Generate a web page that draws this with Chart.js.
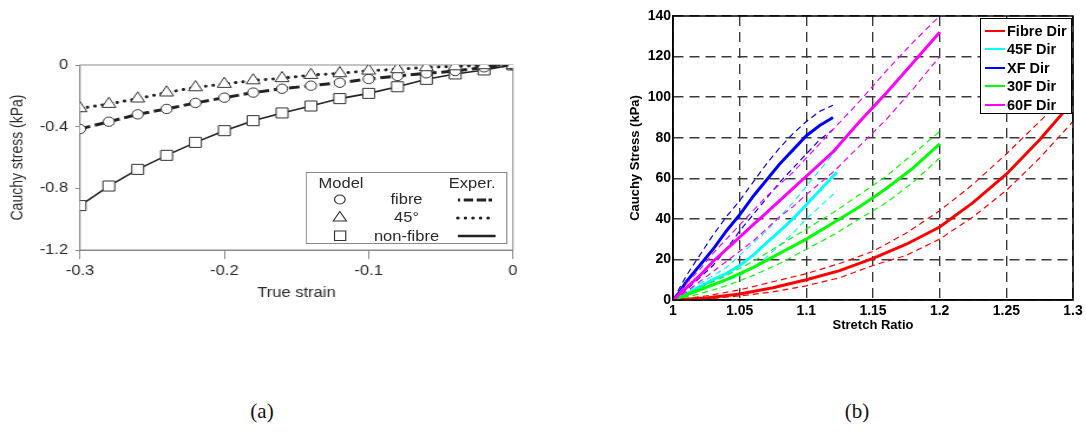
<!DOCTYPE html>
<html><head><meta charset="utf-8">
<script src="https://cdn.jsdelivr.net/npm/chart.js@4.4.1/dist/chart.umd.min.js"></script>
<style>
html,body{margin:0;padding:0;background:#fff;}
body{width:1086px;height:434px;overflow:hidden;position:relative;font-family:"Liberation Sans",Arial,sans-serif;}
#wrapA{position:absolute;left:0;top:0;width:458px;height:310px;transform:scaleX(1.18);transform-origin:0 0;}
#wrapB{position:absolute;left:540px;top:0;width:546px;height:340px;}
.cap{position:absolute;font-family:"Liberation Serif","Times New Roman",serif;font-size:21px;color:#111;transform:translate(-50%,-50%);}
#legB{position:absolute;left:980px;top:18px;width:92px;height:96px;border:1.5px solid #000;background:#fff;box-sizing:border-box;}
.lb{position:absolute;left:4px;height:19px;font:bold 14.5px "Liberation Sans",Arial,sans-serif;color:#000;}
.lb span.sw{position:absolute;left:0;top:8px;width:20px;height:2px;}
.lb span.tx{position:absolute;left:22px;top:0;line-height:19px;white-space:nowrap;}
</style></head><body>
<div id="wrapA"><canvas id="cA"></canvas>
<svg id="legA" style="position:absolute;left:258.5px;top:172px;overflow:visible" width="171" height="72">
  <rect x="0.5" y="0.5" width="170" height="71" fill="#fff" stroke="#888" stroke-width="1"/>
  <g font-family="Liberation Sans, Arial, sans-serif" font-size="14" fill="#2a2a2a">
    <text x="11" y="16">Model</text>
    <text x="161" y="16" text-anchor="end">Exper.</text>
    <text x="85.5" y="32" text-anchor="middle">fibre</text>
    <text x="85.5" y="50" text-anchor="middle">45°</text>
    <text x="85.5" y="69" text-anchor="middle">non-fibre</text>
  </g>
  <circle cx="29" cy="27.5" r="4.5" fill="#fff" stroke="#333" stroke-width="1"/>
  <polygon points="29,39.5 34.6,49 23.4,49" fill="#fff" stroke="#333" stroke-width="1"/>
  <rect x="24.5" y="59" width="9.5" height="9.5" fill="#fff" stroke="#333" stroke-width="1"/>
  <line x1="129" y1="28" x2="161" y2="28" stroke="#222" stroke-width="3" stroke-dasharray="2 3 8 3 8"/>
  <line x1="129" y1="46" x2="161" y2="46" stroke="#222" stroke-width="3" stroke-dasharray="0.1 6.3" stroke-linecap="round"/>
  <line x1="129" y1="64" x2="161" y2="64" stroke="#222" stroke-width="2.5"/>
</svg>
</div>
<div id="wrapB"><canvas id="cB"></canvas></div>
<div id="legB"></div>
<div class="cap" style="left:262px;top:411px">(a)</div>
<div class="cap" style="left:857px;top:411px">(b)</div>
<script>
// ---------- Panel (a) data ----------
const strainA = [-0.30,-0.28,-0.26,-0.24,-0.22,-0.20,-0.18,-0.16,-0.14,-0.12,-0.10,-0.08,-0.06,-0.04,-0.02,0];
const fibreA  = [-0.415,-0.368,-0.320,-0.285,-0.246,-0.212,-0.179,-0.154,-0.134,-0.115,-0.091,-0.071,-0.054,-0.039,-0.015,0];
const deg45A  = [-0.281,-0.253,-0.218,-0.179,-0.145,-0.123,-0.100,-0.086,-0.065,-0.054,-0.037,-0.028,-0.015,-0.009,-0.002,0];
const nonFibreA = [-0.912,-0.785,-0.677,-0.586,-0.502,-0.426,-0.361,-0.311,-0.266,-0.218,-0.184,-0.141,-0.093,-0.058,-0.032,0];
const xTicksA = [-0.3,-0.2,-0.1,0];
const xLabelsA = ['-0.3','-0.2','-0.1','0'];
const yTicksA = [0,-0.4,-0.8,-1.2];
const yLabelsA = ['0','-0.4','-0.8','-1.2'];

// ---------- Panel (b) data ----------
const stretchFibre = [1.0,1.025,1.05,1.075,1.1,1.125,1.15,1.175,1.2,1.225,1.25,1.275,1.3];
const fibreMean  = [0,1,3,6,10,14.5,20.5,27.5,36,48,62,79,98];
const fibreUpper = [0,2,5,9,13,18,24,33,44,57,72,88,104];
const fibreLower = [0,0.5,2,4,7,11,17,22,30,41,54,70,88];

const stretch45 = [1.0,1.01,1.02,1.03,1.04,1.05,1.06,1.07,1.08,1.09,1.10,1.11,1.12,1.123];
const f45Mean  = [0,3,6.5,10,13,17,22,28,34,40,47,54,61,63];
const f45Upper = [0,4,8,12,16,22,28,34,41,48,56,64,72,74];
const f45Lower = [0,2,4.5,7,9.5,12,16,21,27,33,40,46,52,54];

const stretchXF = [1.0,1.005,1.01,1.02,1.03,1.04,1.05,1.06,1.07,1.08,1.09,1.10,1.11,1.12];
const xfMean  = [0,4,9,17,25,34,42,51,59,67,74,81,86,90];
const xfUpper = [0,6,12,22,32,41,49,58,67,75,82,88,93,96];
const xfLower = [0,2,5,11,17,25,34,42,50,58,65,72,79,84];

const stretch30 = [1.0,1.02,1.04,1.06,1.08,1.10,1.12,1.14,1.16,1.18,1.20];
const f30Mean  = [0,5,10,16,23,30,38,46,55,65,77];
const f30Upper = [0,6,12,19,27,35,43,52,61,72,83];
const f30Lower = [0,3,7,12,18,25,32,40,48,58,70];

const stretch60 = [1.0,1.01,1.02,1.03,1.04,1.05,1.06,1.07,1.08,1.09,1.10,1.12,1.14,1.16,1.18,1.20];
const f60Mean  = [0,6,12,19,25,31,37,43,49,55,61,73,88,102,117,132];
const f60Upper = [0,8,15,23,30,37,44,51,57,63,70,84,98,113,127,140];
const f60Lower = [0,4,9,14,19,24,29,35,41,46,52,63,76,89,104,120];

const xTicksB = [1,1.05,1.1,1.15,1.2,1.25,1.3];
const xLabelsB = ['1','1.05','1.1','1.15','1.2','1.25','1.3'];
const yTicksB = [0,20,40,60,80,100,120,140];
const yLabelsB = ['0','20','40','60','80','100','120','140'];

const seriesB = [
  {name:'Fibre Dir', color:'#ff0000', x:stretchFibre, mean:fibreMean, up:fibreUpper, lo:fibreLower},
  {name:'45F Dir',   color:'#00ffff', x:stretch45, mean:f45Mean, up:f45Upper, lo:f45Lower},
  {name:'XF Dir',    color:'#0000ff', x:stretchXF, mean:xfMean, up:xfUpper, lo:xfLower},
  {name:'30F Dir',   color:'#00ff00', x:stretch30, mean:f30Mean, up:f30Upper, lo:f30Lower},
  {name:'60F Dir',   color:'#ff00ff', x:stretch60, mean:f60Mean, up:f60Upper, lo:f60Lower}
];

const pts = (xs, ys) => xs.map((x,i)=>({x, y:ys[i]}));
const fixTicks = (vals) => (s) => { s.ticks = vals.map(v=>({value:v})); };
const frame = (color, width, hook) => ({id:'frame'+hook, [hook](c){
  const {ctx, chartArea:a} = c; ctx.save(); ctx.strokeStyle=color; ctx.lineWidth=width;
  ctx.strokeRect(a.left, a.top, a.right-a.left, a.bottom-a.top); ctx.restore(); }});

Chart.defaults.font.family = '"Liberation Sans", Arial, sans-serif';

// ---------- Chart (a) ----------
const inkA = '#2a2a2a';
const axisA = '#8a8a8a';
new Chart(document.getElementById('cA'), {
  type: 'scatter',
  data: { datasets: [
    {data: pts(strainA, fibreA), showLine:true, borderColor:'#222', borderWidth:3, borderDash:[9,4],
     pointStyle:'circle', pointRadius:4.7, pointBorderWidth:1, pointBorderColor:'#333', pointBackgroundColor:'#fff', order:2},
    {data: pts(strainA, deg45A), showLine:true, borderColor:'#222', borderWidth:3, borderDash:[0.1,6.3], borderCapStyle:'round',
     pointStyle:'triangle', pointRadius:6.8, pointBorderWidth:1, pointBorderColor:'#333', pointBackgroundColor:'#fff', order:1},
    {data: pts(strainA, nonFibreA), showLine:true, borderColor:'#222', borderWidth:1.6,
     pointStyle:'rect', pointRadius:7.1, pointBorderWidth:1, pointBorderColor:'#333', pointBackgroundColor:'#fff', order:3}
  ]},
  options: {
    responsive:true, maintainAspectRatio:false, animation:false,
    layout:{padding:{top:65, right:23.3, left:0, bottom:0}},
    plugins:{legend:{display:false}, tooltip:{enabled:false}},
    elements:{line:{tension:0}},
    scales:{
      x:{type:'linear', min:-0.3, max:0, afterBuildTicks:fixTicks(xTicksA),
         afterFit:(s)=>{s.height=60;},
         ticks:{callback:(v,i)=>xLabelsA[i], color:inkA, font:{size:14}, padding:4, maxRotation:0},
         grid:{display:true, drawOnChartArea:false, drawTicks:true, tickLength:9, color:axisA},
         border:{display:true, color:axisA, width:1},
         title:{display:true, text:'True strain', color:inkA, font:{size:14}, padding:{top:0,bottom:8.6}}},
      y:{type:'linear', min:-1.2, max:0, afterBuildTicks:fixTicks(yTicksA),
         afterFit:(s)=>{s.width=67.8;},
         ticks:{callback:(v,i)=>yLabelsA[i], color:inkA, font:{size:14}, padding:6},
         grid:{display:true, drawOnChartArea:false, drawTicks:true, tickLength:4, color:axisA},
         border:{display:true, color:axisA, width:1},
         title:{display:true, text:'Cauchy stress (kPa)', color:inkA, font:{size:14}, padding:{top:6.9,bottom:0}}}
    }
  },
  plugins:[frame(axisA, 1, 'beforeDatasetsDraw')]
});

// ---------- Chart (b) ----------
const dsB = [];
seriesB.forEach(s => {
  dsB.push({data: pts(s.x, s.up), showLine:true, borderColor:s.color, borderWidth:1.2, borderDash:[6,4], pointRadius:0});
  dsB.push({data: pts(s.x, s.lo), showLine:true, borderColor:s.color, borderWidth:1.2, borderDash:[6,4], pointRadius:0});
  dsB.push({data: pts(s.x, s.mean), showLine:true, borderColor:s.color, borderWidth:3, pointRadius:0});
});
dsB.reverse();
const gridB = '#3a3a3a';
new Chart(document.getElementById('cB'), {
  type:'scatter',
  data:{datasets: dsB},
  options:{
    responsive:true, maintainAspectRatio:false, animation:false,
    layout:{padding:{top:16, right:13, left:0, bottom:0}},
    plugins:{legend:{display:false}, tooltip:{enabled:false}},
    elements:{line:{tension:0}},
    scales:{
      x:{type:'linear', min:1, max:1.3, afterBuildTicks:fixTicks(xTicksB),
         afterFit:(s)=>{s.height=40;},
         ticks:{callback:(v,i)=>xLabelsB[i], color:'#000', font:{size:14, weight:'bold'}, padding:3, maxRotation:0},
         grid:{display:true, drawOnChartArea:true, drawTicks:false, color:gridB, lineWidth:1.4},
         border:{display:true, color:'#000', width:1.5, dash:[10,6]},
         title:{display:true, text:'Stretch Ratio', color:'#000', font:{size:13, weight:'bold'}, padding:{top:0,bottom:7.2}}},
      y:{type:'linear', min:0, max:140, afterBuildTicks:fixTicks(yTicksB),
         afterFit:(s)=>{s.width=133;},
         ticks:{callback:(v,i)=>yLabelsB[i], color:'#000', font:{size:14, weight:'bold'}, padding:2},
         grid:{display:true, drawOnChartArea:true, drawTicks:false, color:gridB, lineWidth:1.4},
         border:{display:true, color:'#000', width:1.5, dash:[10,6]},
         title:{display:true, text:'Cauchy Stress (kPa)', color:'#000', font:{size:13, weight:'bold'}, padding:{top:87.2,bottom:0}}}
    }
  },
  plugins:[frame('#000', 1.5, 'afterDatasetsDraw')]
});

// ---------- Legend (b) ----------
const legB = document.getElementById('legB');
const rowTopsB = [3, 21, 40, 58, 77];
seriesB.forEach((s,i) => {
  const row = document.createElement('div');
  row.className = 'lb';
  row.style.top = rowTopsB[i] + 'px';
  row.innerHTML = '<span class="sw" style="background:'+s.color+'"></span><span class="tx">'+s.name+'</span>';
  legB.appendChild(row);
});
</script>
</body></html>
